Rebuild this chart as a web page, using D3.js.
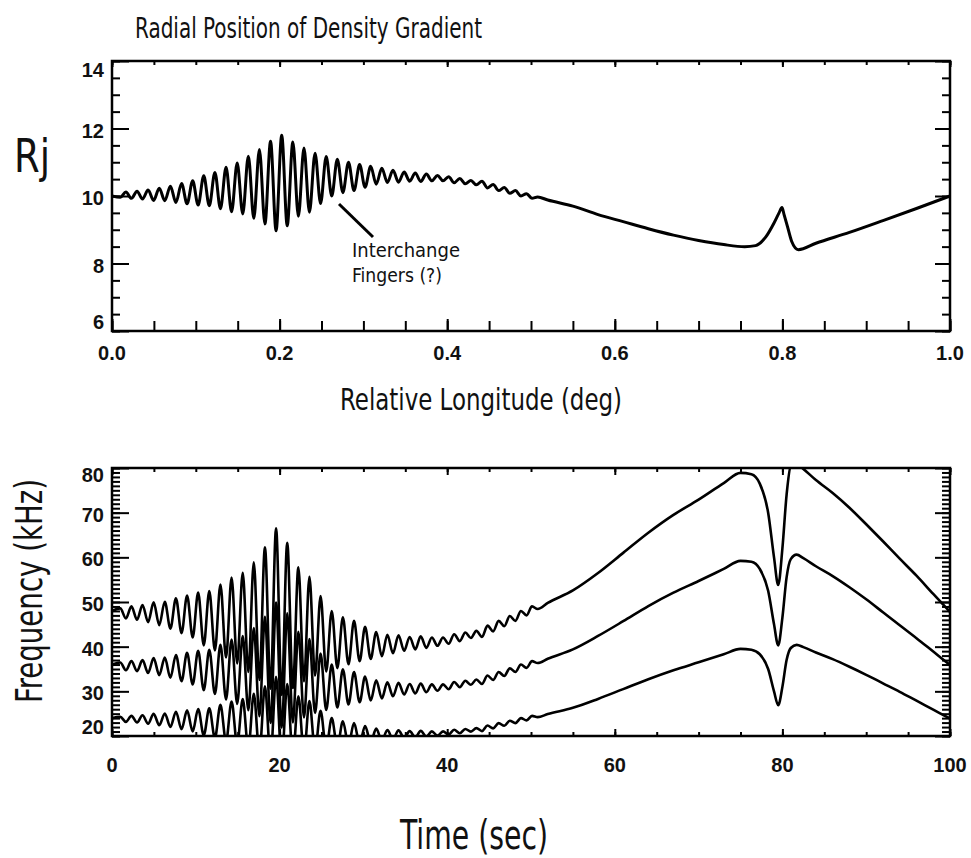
<!DOCTYPE html>
<html lang="en">
<head>
<meta charset="utf-8">
<title>Radial Position of Density Gradient</title>
<script src="https://cdn.jsdelivr.net/npm/d3@7"></script>
<style>
    body { margin: 0; background: #fff; }
    svg { display: block; }
    text.tick-label {
        font-family: "Liberation Sans", Arial, sans-serif;
        font-weight: bold;
        font-size: 20px;
        fill: #111;
    }
    text.caption {
        font-family: "Liberation Sans Narrow", "DejaVu Sans Condensed", "Liberation Sans", sans-serif;
        fill: #111;
    }
    path.trace {
        fill: none;
        stroke: #000;
        stroke-linejoin: round;
    }
</style>
</head>
<body>
<script>
    // TOP PANEL: radial position (Rj) vs relative longitude (deg), peaks/troughs
    const longitudeDeg = [0,
        0.0099, 0.0166, 0.0232, 0.0299, 0.0364, 0.0431, 0.0497, 0.0564, 0.0630, 0.0697,
        0.0763, 0.0830, 0.0896, 0.0963, 0.1028, 0.1095, 0.1161, 0.1228, 0.1294, 0.1361,
        0.1427, 0.1494, 0.1560, 0.1627, 0.1692, 0.1759, 0.1825, 0.1892, 0.1958, 0.2025,
        0.2091, 0.2158, 0.2224, 0.2291, 0.2356, 0.2423, 0.2489, 0.2556, 0.2622, 0.2689,
        0.2755, 0.2822, 0.2888, 0.2955, 0.3020, 0.3087, 0.3153, 0.3220, 0.3286, 0.3353,
        0.3419, 0.3486, 0.3552, 0.3619, 0.3684, 0.3751, 0.3817, 0.3884, 0.3950, 0.4017,
        0.4083, 0.4150, 0.4216, 0.4283, 0.4348, 0.4415, 0.4481, 0.4548, 0.4614, 0.4681,
        0.4747, 0.4814, 0.4880, 0.4947, 0.5012, 0.5079,
        0.52, 0.55, 0.58, 0.61, 0.64, 0.67, 0.70, 0.73, 0.755, 0.768, 0.78, 0.79,
        0.796, 0.7995, 0.802, 0.806, 0.811, 0.819, 0.84, 0.88, 0.92, 0.96, 1.0];
    const radiusRj = [10.00,
        9.96, 10.12, 9.93, 10.14, 9.91, 10.18, 9.87, 10.23, 9.86, 10.29,
        9.81, 10.37, 9.77, 10.45, 9.73, 10.60, 9.71, 10.70, 9.62, 10.85,
        9.53, 10.98, 9.47, 11.18, 9.34, 11.38, 9.17, 11.62, 8.97, 11.80,
        9.12, 11.60, 9.40, 11.42, 9.52, 11.27, 9.78, 11.17, 10.00, 11.09,
        10.10, 11.00, 10.16, 10.93, 10.26, 10.88, 10.35, 10.82, 10.40, 10.76,
        10.41, 10.71, 10.44, 10.68, 10.43, 10.65, 10.45, 10.61, 10.45, 10.57,
        10.39, 10.52, 10.36, 10.46, 10.33, 10.44, 10.24, 10.34, 10.16, 10.25,
        10.08, 10.16, 10.00, 10.07, 9.93, 9.97,
        9.88, 9.70, 9.45, 9.24, 9.03, 8.84, 8.68, 8.56, 8.50, 8.53, 8.78, 9.20,
        9.50, 9.66, 9.45, 9.10, 8.66, 8.41, 8.60, 8.92, 9.27, 9.63, 10.00];

    // BOTTOM PANEL: three emission bands, frequency (kHz) vs time (sec)
    const timeSec = [0,
        0.99, 1.66, 2.32, 2.99, 3.64, 4.31, 4.97, 5.64, 6.30, 6.97,
        7.63, 8.30, 8.96, 9.63, 10.28, 10.95, 11.61, 12.28, 12.94, 13.61,
        14.27, 14.94, 15.60, 16.27, 16.92, 17.59, 18.25, 18.92, 19.58, 20.25,
        20.91, 21.58, 22.24, 22.91, 23.56, 24.23, 24.89, 25.56, 26.22, 26.89,
        27.55, 28.22, 28.88, 29.55, 30.20, 30.87, 31.53, 32.20, 32.86, 33.53,
        34.19, 34.86, 35.52, 36.19, 36.84, 37.51, 38.17, 38.84, 39.50, 40.17,
        40.83, 41.50, 42.16, 42.83, 43.48, 44.15, 44.81, 45.48, 46.14, 46.81,
        47.47, 48.14, 48.80, 49.47, 50.12, 50.79,
        52, 55, 58, 61, 64, 67, 70, 73, 75, 76.3, 77.3, 78.3, 79.0, 79.5,
        80.0, 80.5, 81.0, 81.7, 82.5, 84, 86, 88, 90, 92, 94, 96, 98, 100];
    const freqUpper = [48.00,
        48.58, 46.31, 49.02, 46.04, 49.32, 45.50, 49.92, 44.83, 50.07, 44.05,
        50.84, 43.04, 51.47, 42.06, 52.11, 40.30, 52.43, 39.18, 53.92, 37.58,
        55.46, 36.26, 56.52, 34.35, 58.91, 32.57, 62.25, 30.59, 66.50, 29.21,
        63.28, 30.75, 57.79, 32.23, 55.63, 33.53, 51.31, 34.44, 48.00, 35.19,
        46.59, 36.06, 45.77, 36.76, 44.44, 37.27, 43.29, 37.89, 42.67, 38.53,
        42.55, 39.07, 42.18, 39.40, 42.31, 39.74, 42.06, 40.19, 42.06, 40.65,
        42.79, 41.23, 43.17, 41.94, 43.54, 42.18, 44.70, 43.42, 45.77, 44.57,
        46.87, 45.77, 48.00, 47.01, 49.02, 48.43,
        49.8, 52.6, 56.5, 61.0, 65.5, 69.5, 72.9, 76.6, 78.9, 78.6, 76.5, 70.0, 60.0, 53.8,
        62.0, 74.0, 80.5, 81.0, 79.8, 77.3, 74.4, 71.1, 67.4, 63.6, 59.7, 55.9, 51.8, 47.8];
    const freqMiddle = [36.00,
        36.44, 34.73, 36.77, 34.53, 36.99, 34.12, 37.44, 33.63, 37.56, 33.04,
        38.13, 32.28, 38.60, 31.55, 39.08, 30.23, 39.32, 29.39, 40.44, 28.18,
        41.59, 27.20, 42.39, 25.76, 44.18, 24.43, 46.69, 22.94, 49.88, 21.91,
        47.46, 23.06, 43.34, 24.17, 41.72, 25.15, 38.48, 25.83, 36.00, 26.39,
        34.94, 27.05, 34.33, 27.57, 33.33, 27.95, 32.47, 28.42, 32.00, 28.90,
        31.91, 29.30, 31.64, 29.55, 31.73, 29.80, 31.55, 30.14, 31.55, 30.48,
        32.10, 30.92, 32.38, 31.46, 32.66, 31.64, 33.53, 32.56, 34.33, 33.43,
        35.15, 34.33, 36.00, 35.25, 36.77, 36.33,
        37.3, 39.4, 42.4, 45.7, 49.1, 52.1, 54.7, 57.4, 59.2, 59.0, 57.4, 52.5, 45.0, 40.3,
        46.5, 55.5, 59.6, 60.6, 59.8, 58.0, 55.8, 53.3, 50.6, 47.7, 44.8, 41.9, 38.9, 35.9];
    const freqLower = [24.00,
        24.29, 23.16, 24.51, 23.02, 24.66, 22.75, 24.96, 22.42, 25.04, 22.03,
        25.42, 21.52, 25.73, 21.03, 26.05, 20.15, 26.21, 19.59, 26.96, 18.79,
        27.73, 18.13, 28.26, 17.17, 29.46, 16.28, 31.12, 15.30, 33.25, 14.61,
        31.64, 15.38, 28.90, 16.11, 27.82, 16.77, 25.66, 17.22, 24.00, 17.60,
        23.29, 18.03, 22.88, 18.38, 22.22, 18.63, 21.65, 18.95, 21.34, 19.27,
        21.27, 19.54, 21.09, 19.70, 21.15, 19.87, 21.03, 20.09, 21.03, 20.32,
        21.40, 20.61, 21.58, 20.97, 21.77, 21.09, 22.35, 21.71, 22.88, 22.29,
        23.43, 22.88, 24.00, 23.50, 24.51, 24.22,
        24.9, 26.3, 28.3, 30.5, 32.7, 34.7, 36.5, 38.3, 39.5, 39.3, 38.3, 35.0, 30.0, 26.9,
        31.0, 37.0, 39.7, 40.4, 39.9, 38.7, 37.2, 35.5, 33.7, 31.8, 29.9, 27.9, 25.9, 23.9];

    // tick labels
    const rjTicks = [6, 8, 10, 12, 14];
    const lonTicks = [0, 0.2, 0.4, 0.6, 0.8, 1.0];
    const freqTicks = [20, 30, 40, 50, 60, 70, 80];
    const timeTicks = [0, 20, 40, 60, 80, 100];

    const dim = {
        width: 971,
        height: 858,
        left: 112,
        right: 950,
        upper: {top: 61, bottom: 331},
        lower: {top: 468, bottom: 736}
    };

    const scale = {
        lon: d3.scaleLinear().domain([0, 1]).range([dim.left, dim.right]),
        rj: d3.scaleLinear().domain([6, 14]).range([dim.upper.bottom, dim.upper.top]),
        time: d3.scaleLinear().domain([0, 100]).range([dim.left, dim.right]),
        freq: d3.scaleLinear().domain([20, 80]).range([dim.lower.bottom, dim.lower.top])
    };

    const svg = d3.select("body")
                  .append("svg")
                  .attr("width", dim.width)
                  .attr("height", dim.height);

    // inward tick marks, no labels
    function tickMarks(axis, values, size, transform) {
        svg.append("g")
           .attr("transform", transform)
           .call(axis.tickValues(values).tickSize(size).tickFormat(""))
           .call(g => g.select(".domain").remove())
           .selectAll("line")
           .attr("stroke", "#000")
           .attr("stroke-width", 2);
    }

    function yLabels(values, y, nudge) {
        svg.append("g").selectAll("text")
           .data(values)
           .join("text")
           .attr("class", "tick-label")
           .attr("text-anchor", "end")
           .attr("x", 104)
           .attr("y", (d, i) => y(d) + 7 + nudge(i, values.length))
           .text(d => d);
    }

    function xLabels(values, x, baseline, fmt) {
        svg.append("g").selectAll("text")
           .data(values)
           .join("text")
           .attr("class", "tick-label")
           .attr("text-anchor", "middle")
           .attr("x", d => x(d))
           .attr("y", baseline)
           .text(fmt);
    }

    function clip(id, box) {
        svg.append("clipPath").attr("id", id)
           .append("rect")
           .attr("x", dim.left).attr("y", box.top)
           .attr("width", dim.right - dim.left)
           .attr("height", box.bottom - box.top);
    }

    function frame(box) {
        svg.append("rect")
           .attr("x", dim.left).attr("y", box.top)
           .attr("width", dim.right - dim.left)
           .attr("height", box.bottom - box.top)
           .attr("fill", "none")
           .attr("stroke", "#000")
           .attr("stroke-width", 2.5);
    }

    // end labels sit inside the frame, like the original IDL plot
    const endNudge = (first, last, mid) => (i, n) => i === 0 ? first : (i === n - 1 ? last : mid);

    // ---------- TOP PANEL ----------
    clip("clip-upper", dim.upper);

    const rjLine = d3.line()
        .x(d => scale.lon(d[0]))
        .y(d => scale.rj(d[1]))
        .curve(d3.curveMonotoneX);

    svg.append("path")
       .attr("class", "trace")
       .attr("clip-path", "url(#clip-upper)")
       .attr("stroke-width", 3)
       .attr("d", rjLine(d3.zip(longitudeDeg, radiusRj)));

    const lonMinor = d3.range(0, 1.0001, 0.05);
    const rjMinor = d3.range(6, 14.001, 0.5);
    tickMarks(d3.axisBottom(scale.lon), lonMinor, -10, `translate(0,${dim.upper.bottom})`);
    tickMarks(d3.axisBottom(scale.lon), lonTicks, -12, `translate(0,${dim.upper.bottom})`);
    tickMarks(d3.axisTop(scale.lon), lonMinor, -4, `translate(0,${dim.upper.top})`);
    tickMarks(d3.axisTop(scale.lon), lonTicks, -6, `translate(0,${dim.upper.top})`);
    tickMarks(d3.axisLeft(scale.rj), rjMinor, -8, `translate(${dim.left},0)`);
    tickMarks(d3.axisLeft(scale.rj), rjTicks, -17, `translate(${dim.left},0)`);
    tickMarks(d3.axisRight(scale.rj), rjMinor, -8, `translate(${dim.right},0)`);
    tickMarks(d3.axisRight(scale.rj), rjTicks, -15, `translate(${dim.right},0)`);
    frame(dim.upper);

    yLabels(rjTicks, scale.rj, endNudge(-9, 9, 2));
    xLabels(lonTicks, scale.lon, 360, d3.format(".1f"));

    // annotation
    svg.append("line")
       .attr("x1", 339).attr("y1", 204)
       .attr("x2", 373).attr("y2", 237)
       .attr("stroke", "#000")
       .attr("stroke-width", 3);
    svg.append("text").attr("class", "caption")
       .attr("x", 352).attr("y", 257)
       .attr("font-size", 19)
       .attr("textLength", 108).attr("lengthAdjust", "spacingAndGlyphs")
       .text("Interchange");
    svg.append("text").attr("class", "caption")
       .attr("x", 352).attr("y", 282)
       .attr("font-size", 19)
       .attr("textLength", 90).attr("lengthAdjust", "spacingAndGlyphs")
       .text("Fingers (?)");

    // titles
    svg.append("text").attr("class", "caption")
       .attr("x", 135).attr("y", 38)
       .attr("font-size", 28)
       .attr("textLength", 347).attr("lengthAdjust", "spacingAndGlyphs")
       .text("Radial Position of Density Gradient");
    svg.append("text").attr("class", "caption")
       .attr("x", 14).attr("y", 172)
       .attr("font-size", 46)
       .attr("textLength", 36).attr("lengthAdjust", "spacingAndGlyphs")
       .text("Rj");
    svg.append("text").attr("class", "caption")
       .attr("x", 340).attr("y", 410)
       .attr("font-size", 31)
       .attr("textLength", 282).attr("lengthAdjust", "spacingAndGlyphs")
       .text("Relative Longitude (deg)");

    // ---------- BOTTOM PANEL ----------
    clip("clip-lower", dim.lower);

    const freqLine = d3.line()
        .x(d => scale.time(d[0]))
        .y(d => scale.freq(d[1]))
        .curve(d3.curveMonotoneX);

    svg.append("g")
       .attr("clip-path", "url(#clip-lower)")
       .selectAll("path")
       .data([freqUpper, freqMiddle, freqLower])
       .join("path")
       .attr("class", "trace")
       .attr("stroke-width", 2.6)
       .attr("d", band => freqLine(d3.zip(timeSec, band)));

    const timeMinor = d3.range(0, 100.01, 5);
    const freqMinor = d3.range(20, 80.01, 1);
    tickMarks(d3.axisBottom(scale.time), timeMinor, -4, `translate(0,${dim.lower.bottom})`);
    tickMarks(d3.axisBottom(scale.time), timeTicks, -7, `translate(0,${dim.lower.bottom})`);
    tickMarks(d3.axisTop(scale.time), timeMinor, -4, `translate(0,${dim.lower.top})`);
    tickMarks(d3.axisTop(scale.time), timeTicks, -7, `translate(0,${dim.lower.top})`);
    tickMarks(d3.axisLeft(scale.freq), freqMinor, -8, `translate(${dim.left},0)`);
    tickMarks(d3.axisLeft(scale.freq), freqTicks, -17, `translate(${dim.left},0)`);
    tickMarks(d3.axisRight(scale.freq), freqMinor, -8, `translate(${dim.right},0)`);
    tickMarks(d3.axisRight(scale.freq), freqTicks, -15, `translate(${dim.right},0)`);
    frame(dim.lower);

    yLabels(freqTicks, scale.freq, endNudge(-9, 7, 2));
    xLabels(timeTicks, scale.time, 772, d => d);

    svg.append("text").attr("class", "caption")
       .attr("transform", "translate(42,591) rotate(-90)")
       .attr("text-anchor", "middle")
       .attr("font-size", 37)
       .attr("textLength", 224).attr("lengthAdjust", "spacingAndGlyphs")
       .text("Frequency (kHz)");
    svg.append("text").attr("class", "caption")
       .attr("x", 400).attr("y", 849)
       .attr("font-size", 40)
       .attr("textLength", 148).attr("lengthAdjust", "spacingAndGlyphs")
       .text("Time (sec)");
</script>
</body>
</html>
